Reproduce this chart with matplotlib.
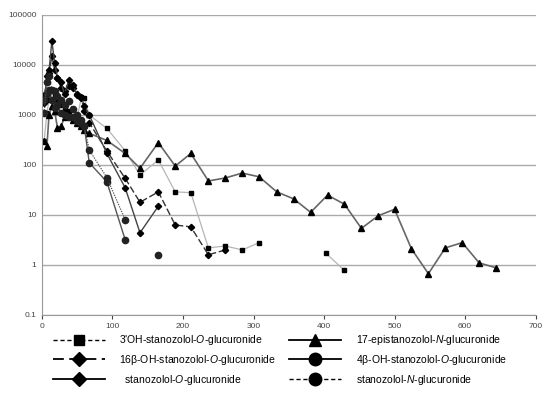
import numpy as np
import matplotlib
matplotlib.use('Agg')
import matplotlib.pyplot as plt
from matplotlib.lines import Line2D

plt.rcParams['font.family'] = ['Liberation Sans', 'DejaVu Sans']
plt.rcParams['mathtext.fontset'] = 'custom'
plt.rcParams['mathtext.it'] = 'Liberation Sans:italic'
plt.rcParams['mathtext.rm'] = 'Liberation Sans'

nan = np.nan

# 3'OH-stanozolol-O-glucuronide
t_3oh = [3, 7, 10, 14, 18, 22, 27, 32, 38, 44, 50, 56, 60, 67, 92, 118, 139, 165, 189, 211, 236, 260, 284, 308, 355, 403, 428]
y_3oh = [300, 1100, 2000, 3000, 2500, 2000, 1600, 1300, 1200, 900, 900, 2300, 2200, 1000, 540, 193, 63, 126, 29, 28, 2.2, 2.4, 2.0, 2.8, nan, 1.7, 0.8]

# 16b-OH-stanozolol-O-glucuronide
t_16b = [3, 7, 10, 14, 18, 22, 27, 32, 38, 44, 50, 56, 60, 67, 92, 118, 139, 165, 189, 211, 236, 260]
y_16b = [2500, 4500, 7000, 15000, 8000, 5500, 3500, 3000, 3800, 3500, 2600, 2200, 1200, 700, 190, 54, 18, 29, 6.3, 5.8, 1.6, 2.0]

# stanozolol-O-glucuronide
t_so = [3, 7, 10, 14, 18, 22, 27, 32, 38, 44, 50, 56, 60, 67, 92, 118, 139, 165]
y_so = [1700, 6000, 7800, 30000, 11000, 5500, 4500, 2600, 5000, 4000, 2500, 2300, 1500, 1000, 170, 35, 4.4, 15]

# 17-epistanozolol-N-glucuronide
t_17 = [3, 7, 10, 14, 18, 22, 27, 32, 38, 44, 50, 56, 60, 67, 92, 118, 139, 165, 189, 211, 236, 260,
        284, 308, 333, 357, 381, 405, 429, 453, 477, 500, 524, 548, 572, 596, 620, 644]
y_17 = [300, 240, 1000, 1500, 1200, 540, 590, 900, 1000, 800, 700, 600, 500, 430, 310, 170, 86, 280, 95, 170, 48, 55,
        69, 58, 29, 21, 11.3, 25, 16.4, 5.4, 9.7, 13, 2.1, 0.67, 2.2, 2.8, 1.1, 0.88]

# 4b-OH-stanozolol-O-glucuronide
t_4b = [3, 7, 10, 14, 18, 22, 27, 32, 38, 44, 50, 56, 60, 67, 92, 118]
y_4b = [2000, 2600, 3200, 2000, 1400, 1600, 1100, 1000, 900, 900, 750, 700, 600, 111, 46, 3.2]

# stanozolol-N-glucuronide
t_sn = [3, 7, 10, 14, 18, 22, 27, 32, 38, 44, 50, 56, 60, 67, 92, 118, 139, 165]
y_sn = [1100, 4500, 6000, 3200, 3000, 2400, 2000, 1600, 1900, 1300, 1000, 800, 600, 200, 56, 8, nan, 1.6]

labels = [r"3'OH-stanozolol-$\mathit{O}$-glucuronide",
          r"16β-OH-stanozolol-$\mathit{O}$-glucuronide",
          r"  stanozolol-$\mathit{O}$-glucuronide",
          r"17-epistanozolol-$\mathit{N}$-glucuronide",
          r"4β-OH-stanozolol-$\mathit{O}$-glucuronide",
          r"stanozolol-$\mathit{N}$-glucuronide"]

fig = plt.figure(figsize=(5.51, 4.13), dpi=100)
ax = fig.add_axes([0.0762, 0.2373, 0.8958, 0.7264])

ax.plot(t_3oh, y_3oh, color='#b5b5b5', lw=0.9, marker='s', ms=3.2, mfc='black', mec='black')
ax.plot(t_17, y_17, color='#666666', lw=1.2, marker='^', ms=4, mfc='black', mec='black')
ax.plot(t_16b, y_16b, color='#333333', lw=1.0, ls=(0, (5, 2)), marker='D', ms=3.2, mfc='black', mec='black')
ax.plot(t_so, y_so, color='#444444', lw=1.0, marker='D', ms=3.2, mfc='black', mec='black')
ax.plot(t_4b, y_4b, color='#555555', lw=1.0, marker='o', ms=4.5, mfc='#222222', mec='#222222')
ax.plot(t_sn, y_sn, color='#555555', lw=0.9, ls=(0, (1, 1)), marker='o', ms=4.5, mfc='#222222', mec='#222222')

ax.set_yscale('log')
ax.set_ylim(0.1, 100000)
ax.set_xlim(0, 700)
ax.set_yticks([0.1, 1, 10, 100, 1000, 10000, 100000])
ax.set_yticklabels(['0.1', '1', '10', '100', '1000', '10000', '100000'])
ax.yaxis.set_minor_locator(matplotlib.ticker.NullLocator())
ax.set_xticks(range(0, 701, 100))
ax.grid(axis='y', color='#aaaaaa', lw=1.0)
ax.set_axisbelow(True)
for s in ['top', 'right']:
    ax.spines[s].set_visible(False)
for s in ['left', 'bottom']:
    ax.spines[s].set_color('#999999')
ax.tick_params(axis='both', labelsize=6, colors='#444444', length=3, width=0.8)
ax.tick_params(axis='x', pad=3)
ax.tick_params(axis='y', length=0, pad=4)

handles = [
    Line2D([], [], color='black', lw=1.0, ls=(0, (3, 2)), marker='s', ms=7),
    Line2D([], [], color='black', lw=1.3, ls=(0, (6, 3)), marker='D', ms=7),
    Line2D([], [], color='black', lw=1.3, marker='D', ms=7),
    Line2D([], [], color='black', lw=1.3, marker='^', ms=9),
    Line2D([], [], color='black', lw=1.3, marker='o', ms=9),
    Line2D([], [], color='black', lw=1.0, ls=(0, (3, 2)), marker='o', ms=9),
]
fig.legend(handles, labels, ncol=2, loc='upper left', bbox_to_anchor=(0.088, 0.203),
           frameon=False, fontsize=7.5, handlelength=5, handletextpad=1.4,
           columnspacing=1.25, labelspacing=0.55, borderaxespad=0)

fig.savefig('out.png', dpi=100)
